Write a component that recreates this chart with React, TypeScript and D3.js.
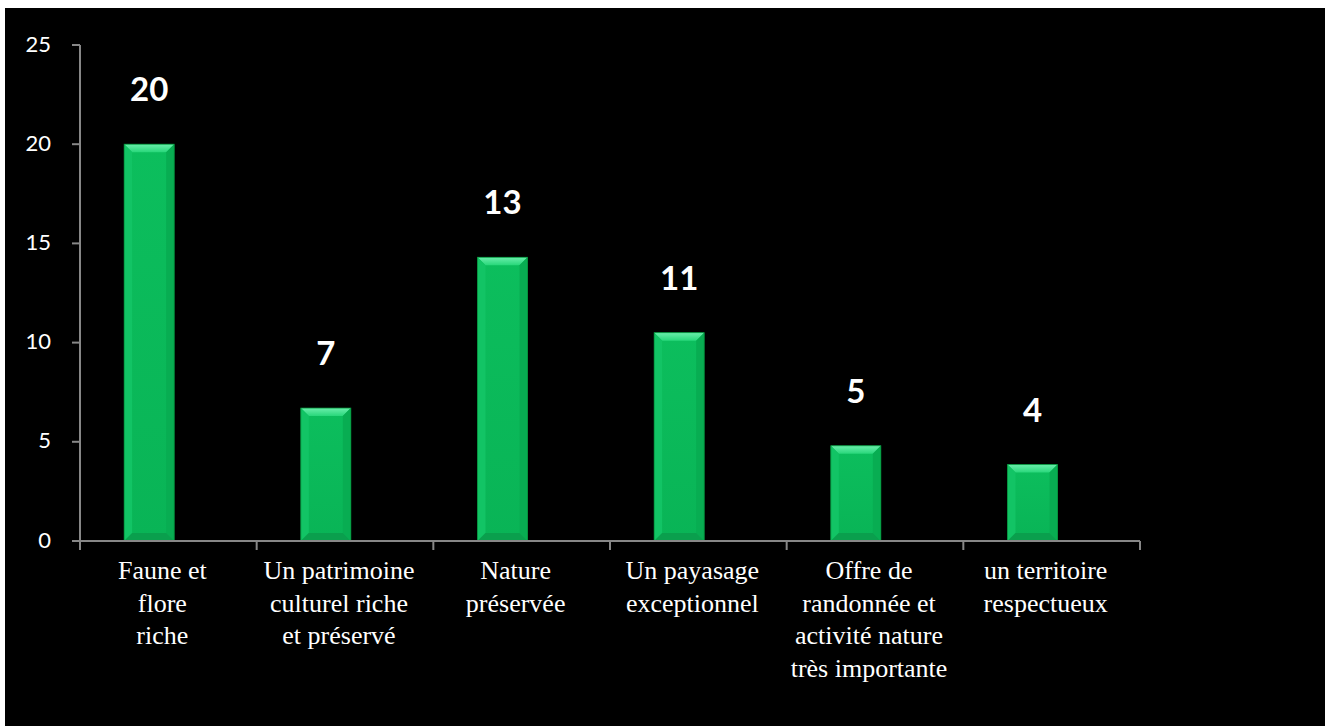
import React from "react";
import * as d3 from "d3";

// chart data
const categories: string[][] = [
  ["Faune et", "flore", "riche"],
  ["Un patrimoine", "culturel riche", "et préservé"],
  ["Nature", "préservée"],
  ["Un payasage", "exceptionnel"],
  ["Offre de", "randonnée et", "activité nature", "très importante"],
  ["un territoire", "respectueux"],
];
const barValues = [20, 6.7, 14.3, 10.5, 4.8, 3.85];
const dataLabels = ["20", "7", "13", "11", "5", "4"];
const yTicks = [0, 5, 10, 15, 20, 25];

const W = 1320;
const H = 718;
const margin = { left: 75, right: 185, top: 37, bottom: 185 };

const App: React.FC = () => {
  const x = d3
    .scaleBand<number>()
    .domain(d3.range(categories.length))
    .range([margin.left, W - margin.right]);
  const y = d3.scaleLinear().domain([0, 25]).range([H - margin.bottom, margin.top]);

  const band = x.bandwidth();
  const barW = band * 0.283;
  const bev = 8;
  const y0 = y(0);
  const axisColor = "#878787";

  return (
    <svg
      width={W}
      height={H}
      style={{ position: "absolute", left: 5, top: 8, background: "#000" }}
    >
      <defs>
        <linearGradient id="topBevel" x1="0" y1="0" x2="0" y2="1">
          <stop offset="0%" stopColor="#6aeeab" />
          <stop offset="100%" stopColor="#28d77a" />
        </linearGradient>
        <linearGradient id="face" x1="0" y1="0" x2="0" y2="1">
          <stop offset="0%" stopColor="#0cbe5d" />
          <stop offset="100%" stopColor="#09b456" />
        </linearGradient>
      </defs>
      <rect x={0} y={0} width={W} height={H} fill="#000" />

      {/* bars */}
      {barValues.map((v, i) => {
        const bx = (x(i) as number) + band * 0.25;
        const by = y(v);
        const x1 = bx + barW;
        const b = Math.min(bev, (y0 - by) / 2);
        return (
          <g key={i}>
            <rect x={bx} y={by} width={barW} height={y0 - by} fill="url(#face)" />
            <polygon
              points={`${bx},${by} ${x1},${by} ${x1 - b},${by + b} ${bx + b},${by + b}`}
              fill="url(#topBevel)"
            />
            <polygon
              points={`${bx},${by} ${bx + b},${by + b} ${bx + b},${y0 - b} ${bx},${y0}`}
              fill="#12c465"
            />
            <polygon
              points={`${x1},${by} ${x1 - b},${by + b} ${x1 - b},${y0 - b} ${x1},${y0}`}
              fill="#08ad52"
            />
            <polygon
              points={`${bx},${y0} ${bx + b},${y0 - b} ${x1 - b},${y0 - b} ${x1},${y0}`}
              fill="#0a9f4d"
            />
            <rect
              x={bx}
              y={by}
              width={barW}
              height={y0 - by}
              fill="none"
              stroke="#07963f"
              strokeWidth={0.8}
            />
            <text
              x={bx + barW / 2}
              y={by - 43}
              textAnchor="middle"
              fill="#fff"
              fontFamily="Lato, 'Open Sans', sans-serif"
              fontWeight="bold"
              fontSize={33}
            >
              {dataLabels[i]}
            </text>
          </g>
        );
      })}

      {/* y axis */}
      <line x1={margin.left} x2={margin.left} y1={y(25)} y2={y0} stroke={axisColor} strokeWidth={2} />
      {yTicks.map((t) => (
        <g key={t}>
          <line x1={margin.left - 8} x2={margin.left} y1={y(t)} y2={y(t)} stroke={axisColor} strokeWidth={2} />
          <text
            x={margin.left - 29}
            y={y(t)}
            dy="0.3em"
            textAnchor="end"
            fill="#fff"
            fontFamily="Lato, 'Open Sans', sans-serif"
            fontSize={22}
          >
            {t}
          </text>
        </g>
      ))}

      {/* x axis */}
      <line x1={margin.left - 8} x2={W - margin.right} y1={y0} y2={y0} stroke={axisColor} strokeWidth={2} />
      {d3.range(categories.length + 1).map((i) => {
        const tx = margin.left + i * band;
        return <line key={i} x1={tx} x2={tx} y1={y0} y2={y0 + 9} stroke={axisColor} strokeWidth={2} />;
      })}
      {categories.map((lines, i) => (
        <text
          key={i}
          x={(x(i) as number) + band / 2 - 6}
          y={y0 + 38}
          textAnchor="middle"
          fill="#fff"
          fontFamily="'Liberation Serif', 'Times New Roman', serif"
          fontSize={26}
        >
          {lines.map((l, j) => (
            <tspan key={j} x={(x(i) as number) + band / 2 - 6} dy={j === 0 ? 0 : 32.6}>
              {l}
            </tspan>
          ))}
        </text>
      ))}
    </svg>
  );
};

export default App;
